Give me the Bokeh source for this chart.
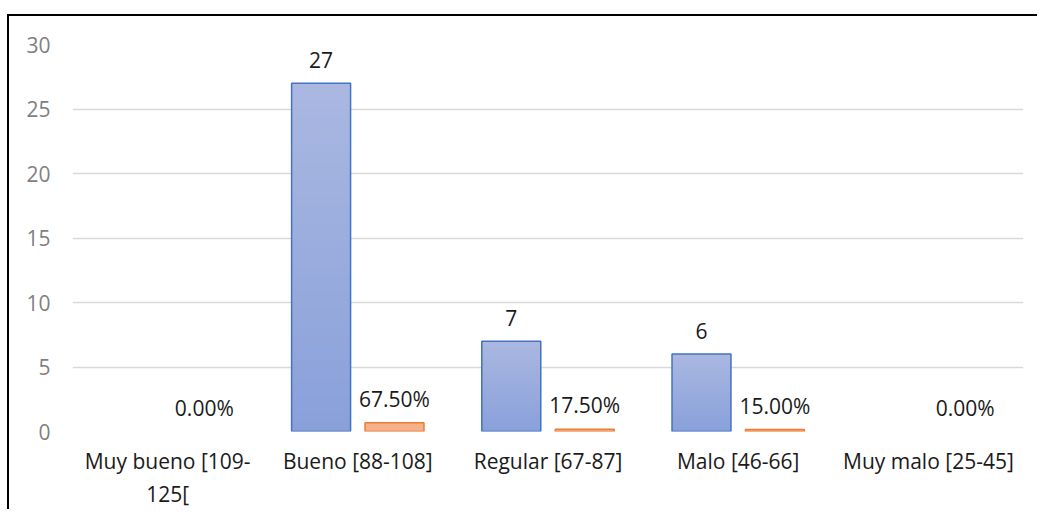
from bokeh.plotting import figure
from bokeh.models import ColumnDataSource, FactorRange, Range1d
from bokeh.transform import dodge
from bokeh.core.properties import value
from bokeh.embed import file_html
from bokeh.resources import INLINE

categories = ["Muy bueno [109-125[", "Bueno [88-108]", "Regular [67-87]", "Malo [46-66]", "Muy malo [25-45]"]
counts = [0, 27, 7, 6, 0]
shares = [0.0, 0.675, 0.175, 0.15, 0.0]
y_ticks = [0, 5, 10, 15, 20, 25, 30]

# the first category's label wraps onto two lines in the source chart
wrapped = {"Muy bueno [109-125[": "Muy bueno [109-\n125["}
factors = [wrapped.get(c, c) for c in categories]

FONT = "Open Sans"
FS = "21px"
BAR_W = 0.31
OFF = 0.193

p = figure(x_range=FactorRange(*factors, range_padding=0), y_range=Range1d(0, 30),
           width=1030, height=495, output_backend="svg", toolbar_location=None,
           min_border_left=63, min_border_right=16, min_border_top=28, min_border_bottom=79)
p.styles = {"border-top": "2px solid black", "border-left": "2px solid black",
            "margin-top": "14px", "margin-left": "7px"}
p.outline_line_color = None
p.background_fill_color = "white"
p.border_fill_color = "white"

# gradient blue bars built from overlapping strips (darker at bottom, lighter at top)
N = 40
top_c = (170, 184, 225)
bot_c = (137, 160, 218)
sx, sb, st, sc = [], [], [], []
for cat, v in zip(factors, counts):
    if v <= 0:
        continue
    for k in range(N):
        f = (k + 0.5) / N
        c = tuple(int(round(bot_c[j] + (top_c[j] - bot_c[j]) * f)) for j in range(3))
        sx.append(cat)
        sb.append(v * k / N)
        st.append(v)
        sc.append("#%02x%02x%02x" % c)
strips = ColumnDataSource(dict(cat=sx, bottom=sb, top=st, color=sc))
p.vbar(x=dodge("cat", -OFF, range=p.x_range), bottom="bottom", top="top", width=BAR_W,
       source=strips, fill_color="color", line_color=None)

blue_nonzero = ColumnDataSource(dict(
    cat=[c for c, v in zip(factors, counts) if v > 0],
    counts=[v for v in counts if v > 0],
    label=[str(v) for v in counts if v > 0]))
p.vbar(x=dodge("cat", -OFF, range=p.x_range), top="counts", width=BAR_W, source=blue_nonzero,
       fill_alpha=0, line_color="#4472C4", line_width=1.5)

orange_nonzero = ColumnDataSource(dict(
    cat=[c for c, s in zip(factors, shares) if s > 0],
    shares=[s for s in shares if s > 0]))
p.vbar(x=dodge("cat", OFF, range=p.x_range), top="shares", width=BAR_W, source=orange_nonzero,
       fill_color="#F5B08C", line_color="#ED7D31", line_width=1.5)

p.text(x=dodge("cat", -OFF, range=p.x_range), y="counts", text="label", source=blue_nonzero,
       text_font=value(FONT), text_font_size=FS, text_color="#1a1a1a",
       text_align="center", text_baseline="middle", y_offset=-23)

pct_src = ColumnDataSource(dict(cat=factors, shares=shares,
                                label=["%.2f%%" % (s * 100) for s in shares]))
p.text(x=dodge("cat", OFF, range=p.x_range), y="shares", text="label", source=pct_src,
       text_font=value(FONT), text_font_size=FS, text_color="#1a1a1a",
       text_align="center", text_baseline="middle", y_offset=-24)

p.xgrid.grid_line_color = None
p.ygrid.grid_line_color = "#D9D9D9"
p.ygrid.grid_line_width = 1.5
p.yaxis.ticker = y_ticks
p.yaxis.axis_line_color = None
p.yaxis.major_tick_line_color = None
p.yaxis.minor_tick_line_color = None
p.yaxis.major_label_standoff = 16
p.yaxis.major_label_text_font = FONT
p.yaxis.major_label_text_font_size = FS
p.yaxis.major_label_text_color = "#7F7F7F"

p.xaxis.axis_line_color = None
p.xaxis.major_tick_line_color = None
p.xaxis.major_label_standoff = 9
p.xaxis.major_label_text_font = FONT
p.xaxis.major_label_text_font_size = FS
p.xaxis.major_label_text_color = "#1a1a1a"
p.xaxis.major_label_text_line_height = 1.2

open("out.html", "w").write(file_html(p, INLINE))
